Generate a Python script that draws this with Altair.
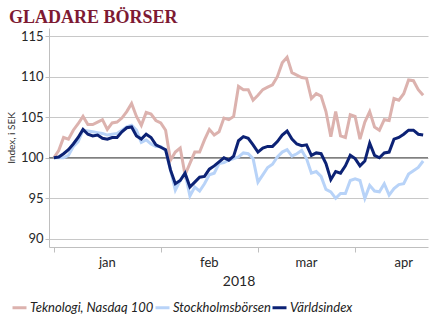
import altair as alt
import pandas as pd

teknologi = [100.0, 100.9, 102.5, 102.3, 103.4, 104.2, 105.1, 104.1, 104.1, 104.4,
             104.7, 103.5, 104.3, 104.4, 104.9, 105.7, 106.7, 105.1, 104.0, 105.6,
             105.4, 104.6, 104.3, 103.4, 99.7, 100.7, 101.2, 97.9, 99.3, 100.7,
             100.7, 102.2, 103.5, 102.8, 103.2, 104.9, 104.7, 105.1, 108.8, 108.4,
             108.4, 107.1, 107.7, 108.4, 108.7, 109.0, 110.0, 111.7, 112.4, 110.5,
             110.2, 109.9, 109.8, 107.3, 107.9, 107.6, 105.7, 102.6, 105.7, 102.7,
             102.5, 105.3, 105.1, 102.3, 104.4, 105.7, 103.8, 103.4, 104.7, 104.6,
             107.3, 107.1, 107.9, 109.6, 109.5, 108.4, 107.7]
stockholm = [100.0, 100.0, 100.0, 100.3, 101.4, 102.0, 103.4, 103.3, 103.2, 103.1,
             103.0, 102.8, 102.9, 103.0, 103.4, 103.8, 104.0, 103.4, 101.9, 102.2,
             101.7, 101.4, 101.4, 100.9, 98.5, 96.0, 97.2, 98.1, 95.3, 96.4,
             95.9, 96.8, 97.9, 98.1, 99.3, 99.4, 99.7, 99.9, 100.1, 100.6,
             100.5, 99.9, 97.0, 97.9, 98.8, 99.2, 100.1, 100.7, 101.0, 100.2,
             100.5, 100.9, 99.9, 98.1, 98.3, 97.7, 96.1, 95.8, 95.0, 95.6,
             95.6, 97.2, 97.4, 97.2, 95.0, 96.6, 95.9, 95.8, 96.8, 95.4,
             96.2, 96.7, 96.8, 98.0, 98.4, 98.8, 99.6]
varlds = [100.0, 100.1, 100.5, 101.0, 101.7, 102.5, 103.5, 102.9, 102.7, 102.8,
          102.4, 102.3, 102.5, 102.5, 103.2, 103.7, 103.8, 102.7, 102.3, 102.9,
          102.5, 101.6, 101.3, 101.0, 98.5, 96.8, 97.2, 98.1, 96.4, 97.0,
          97.6, 97.7, 98.6, 99.0, 99.5, 100.0, 99.7, 100.2, 102.1, 102.6,
          102.4, 101.6, 100.7, 101.2, 101.4, 101.4, 102.0, 102.8, 103.3, 102.3,
          101.7, 101.5, 101.6, 100.3, 100.6, 100.5, 99.3, 97.3, 98.3, 98.1,
          99.0, 100.3, 99.9, 99.0, 99.6, 101.8, 100.3, 100.0, 100.6, 100.7,
          102.3, 102.5, 102.9, 103.4, 103.4, 102.9, 102.8]

series_names = ["Teknologi, Nasdaq 100", "Stockholmsbörsen", "Världsindex"]
series_colors = ["#dcb2ae", "#b8d3f8", "#0c2275"]
months = ["jan", "feb", "mar", "apr"]
month_centers = [11, 32, 52, 72]
month_bounds = [0, 22, 42, 62]
y_ticks = [90, 95, 100, 105, 110, 115]

rows = []
for name, vals in zip(series_names, [teknologi, stockholm, varlds]):
    for i, v in enumerate(vals):
        rows.append({"day": i, "value": v, "series": name})
df = pd.DataFrame(rows)

x_enc = alt.X("day:Q",
              scale=alt.Scale(domain=[-1, 77], nice=False, zero=False),
              axis=alt.Axis(values=month_bounds, labels=False, grid=False,
                            tickSize=5, tickColor="#bfbfbf", domainColor="#bfbfbf",
                            title="2018", titleFont="Lato", titleFontSize=14,
                            titleFontWeight="normal", titleColor="#262626",
                            titlePadding=22))
y_enc = alt.Y("value:Q",
              scale=alt.Scale(domain=[89, 116], nice=False, zero=False),
              axis=alt.Axis(values=y_ticks, grid=True, gridColor="#c8c8c8",
                            tickSize=4, tickColor="#bfbfbf", domainColor="#bfbfbf",
                            labelFont="Lato", labelFontSize=13, labelColor="#262626",
                            labelPadding=2,
                            title="Index, i SEK", titleFont="Lato", titleFontSize=10,
                            titleFontWeight="normal", titleColor="#333333",
                            titlePadding=4))

rule = alt.Chart(pd.DataFrame({"value": [100]})).mark_rule(
    color="#808080", strokeWidth=1.5).encode(y=y_enc)

lines = alt.Chart(df).mark_line(strokeWidth=3).encode(
    x=x_enc, y=y_enc,
    color=alt.Color("series:N",
                    scale=alt.Scale(domain=series_names, range=series_colors),
                    legend=alt.Legend(orient="none", legendX=-38, legendY=271,
                                      direction="horizontal", title=None,
                                      symbolType="stroke", symbolStrokeWidth=3,
                                      symbolSize=196, labelFont="Lato",
                                      labelFontStyle="italic", labelFontSize=13,
                                      labelColor="#222222", labelOffset=2,
                                      columnPadding=-5, padding=0)),
    detail="series:N")

month_text = alt.Chart(pd.DataFrame({"day": month_centers, "m": months})).mark_text(
    font="Lato", fontSize=13, color="#262626", baseline="alphabetic").encode(
    x=x_enc, y=alt.value(239), text="m:N")

chart = alt.layer(rule, lines, month_text).properties(
    width=379, height=219,
    title=alt.TitleParams("GLADARE BÖRSER", anchor="start", frame="group",
                          font="Liberation Serif", fontSize=18, fontWeight="bold",
                          color="#7d1a33", dx=-40, offset=1),
    autosize=alt.AutoSizeParams(type="none"),
    padding={"left": 49, "top": 28, "right": 18, "bottom": 79},
).configure_view(stroke=None)

chart.save("out.html", embed_options={"renderer": "svg", "actions": False})
